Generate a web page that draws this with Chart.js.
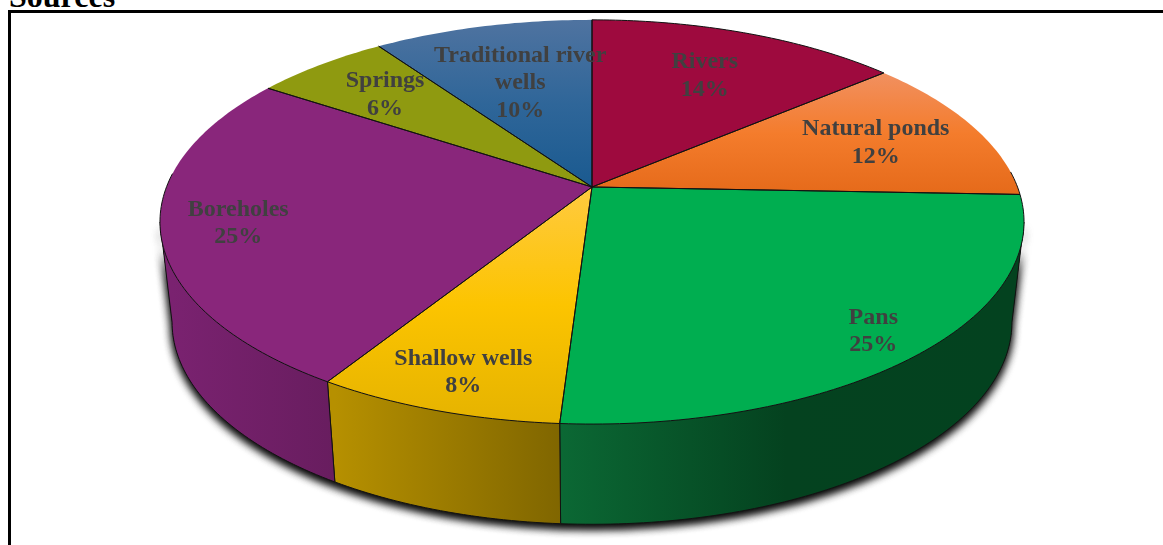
<!DOCTYPE html>
<html>
<head>
<meta charset="utf-8">
<style>
  html, body { margin: 0; padding: 0; background: #fff; overflow: hidden; }
  #wrap { position: relative; width: 1163px; height: 545px; overflow: hidden; }
  #title { position: absolute; left: 9px; top: -22px; font: bold 32px "Liberation Serif", serif; color: #000; }
  #frame { position: absolute; left: 8px; top: 10px; width: 1200px; height: 600px; border: 3px solid #000; }
  canvas { position: absolute; left: 0; top: 0; }
</style>
</head>
<body>
<div id="wrap">
  <div id="title">Sources</div>
  <div id="frame"></div>
  <canvas id="sourcesChart" width="1163" height="545"></canvas>
</div>
<script src="https://cdn.jsdelivr.net/npm/chart.js@4"></script>
<script>
const categories = ['Rivers', 'Natural ponds', 'Pans', 'Shallow wells', 'Boreholes', 'Springs', 'Traditional river wells'];
// printed labels are whole percents, the slice sizes read a little finer than that
const shares = [13.8, 11.8, 25.4, 7.9, 25.4, 6.0, 9.7];

// vertical gradient on the top face of each slice
const topStops = [
    ['#9e0a3e', '#9e0a3e'],
    ['#f19060', '#f47c2c', '#e56a1a'],
    ['#00ae50', '#00ae50'],
    ['#ffca40', '#fcc400', '#e5b300'],
    ['#89267b', '#89267b'],
    ['#8f9a10', '#8f9a10'],
    ['#4f73a0', '#2f6699', '#1a5a90'],
];
// horizontal gradient on the rim
const rimStops = [
    ['#6e0629', '#6e0629'],
    ['#a04a12', '#a04a12'],
    ['#0b6834', '#04421f', '#03421f'],
    ['#b69000', '#806600'],
    ['#7a2270', '#681d5f'],
    ['#636b0a', '#636b0a'],
    ['#123f66', '#123f66'],
];
// how far out along the middle of the slice each label sits
const labelReach = [0.70, 0.735, 0.875, 0.85, 0.825, 0.74, 0.62];

const TILT = 0.173;
const STRETCH_X = 2.548;
const STRETCH_Y = 1.174;
const DEPTH = 0.6;
const TAPER = 0.972;
const LABEL_WRAP = 180;
// the rim is visible between these two angles, where the outline turns back
const RIM_FROM = Math.asin(TILT);
const RIM_TO = Math.PI - Math.asin(TILT);

// Circle seen in perspective: the library's arc centre and radius go in, a page point comes out
function project(arc, angle, reach = 1) {
    const x = Math.cos(angle) * reach;
    const y = Math.sin(angle) * reach;
    const w = 1 - TILT * y;
    return {
        x: arc.x + arc.outerRadius * STRETCH_X * x / w,
        y: arc.y + arc.outerRadius * STRETCH_Y * y / w,
    };
}

function lower(arc, p) {
    return { x: arc.x + (p.x - arc.x) * TAPER, y: p.y + arc.outerRadius * DEPTH };
}

function curve(arc, from, to) {
    const steps = Math.max(8, Math.ceil((to - from) * 60));
    const pts = [];
    for (let i = 0; i <= steps; i++) {
        pts.push(project(arc, from + (to - from) * i / steps));
    }
    return pts;
}

function addStops(gradient, stops) {
    stops.forEach((c, i) => gradient.addColorStop(i / (stops.length - 1), c));
    return gradient;
}

function tracePoints(ctx, pts) {
    pts.forEach((p, i) => (i ? ctx.lineTo(p.x, p.y) : ctx.moveTo(p.x, p.y)));
}

function drawShadow(ctx, arc) {
    const pts = curve(arc, RIM_FROM, RIM_TO);
    const bottom = pts.map((p) => lower(arc, p));
    ctx.save();
    ctx.shadowColor = 'rgba(0,0,0,0.9)';
    ctx.shadowBlur = 10;
    ctx.shadowOffsetY = 4;
    ctx.fillStyle = '#333';
    ctx.beginPath();
    tracePoints(ctx, [...pts, ...bottom.reverse()]);
    ctx.closePath();
    ctx.fill();
    ctx.fill();
    ctx.restore();
}

function drawRim(ctx, arc, index) {
    const from = Math.max(arc.startAngle, RIM_FROM);
    const to = Math.min(arc.endAngle, RIM_TO);
    if (to <= from) return;
    const pts = curve(arc, from, to);
    const bottom = pts.map((p) => lower(arc, p));
    const xs = bottom.map((p) => p.x);
    const gradient = ctx.createLinearGradient(Math.min(...xs), 0, Math.max(...xs), 0);
    ctx.fillStyle = addStops(gradient, rimStops[index]);
    ctx.beginPath();
    tracePoints(ctx, [...pts, ...bottom.slice().reverse()]);
    ctx.closePath();
    ctx.fill();

    // bottom curve and the upright edges at each end
    ctx.strokeStyle = '#111';
    ctx.lineWidth = 1;
    ctx.beginPath();
    tracePoints(ctx, [pts[0], ...bottom, pts[pts.length - 1]]);
    ctx.stroke();
}

function drawTop(ctx, arc, index) {
    const pts = curve(arc, arc.startAngle, arc.endAngle);
    const centre = { x: arc.x, y: arc.y };
    const ys = pts.map((p) => p.y).concat(centre.y);
    const gradient = ctx.createLinearGradient(0, Math.min(...ys), 0, Math.max(...ys));
    ctx.fillStyle = addStops(gradient, topStops[index]);
    ctx.beginPath();
    tracePoints(ctx, [centre, ...pts]);
    ctx.closePath();
    ctx.fill();
}

function drawTopEdges(ctx, arc, index) {
    const pts = curve(arc, arc.startAngle, arc.endAngle);
    const span = arc.endAngle - arc.startAngle;
    ctx.strokeStyle = '#111';
    ctx.lineWidth = 1;
    ctx.beginPath();
    tracePoints(ctx, [pts[0], { x: arc.x, y: arc.y }, pts[pts.length - 1]]);
    ctx.stroke();
    // the far rim has a faint light edge, so only the near rim and the first slice get a line
    ctx.beginPath();
    let pen = false;
    pts.forEach((p, i) => {
        const a = arc.startAngle + span * i / (pts.length - 1);
        if (index === 0 || Math.sin(a) > -0.08) {
            pen ? ctx.lineTo(p.x, p.y) : ctx.moveTo(p.x, p.y);
            pen = true;
        }
    });
    ctx.stroke();
}

function wrapLabel(ctx, text) {
    const lines = [];
    let line = '';
    text.split(' ').forEach((word) => {
        const next = line ? line + ' ' + word : word;
        if (line && ctx.measureText(next).width > LABEL_WRAP) {
            lines.push(line);
            line = word;
        } else {
            line = next;
        }
    });
    lines.push(line);
    return lines;
}

function drawLabels(ctx, arcs) {
    ctx.font = 'bold 24px "Liberation Serif", serif';
    ctx.fillStyle = '#404040';
    ctx.textAlign = 'center';
    ctx.textBaseline = 'middle';
    const lineHeight = 27.5;
    arcs.forEach((arc, i) => {
        const mid = (arc.startAngle + arc.endAngle) / 2;
        const at = project(arc, mid, labelReach[i]);
        const lines = wrapLabel(ctx, categories[i]).concat(Math.round(shares[i]) + '%');
        lines.forEach((text, n) => {
            ctx.fillText(text, at.x, at.y + 1 + (n - (lines.length - 1) / 2) * lineHeight);
        });
    });
}

const perspectivePie = {
    id: 'perspectivePie',
    beforeDatasetsDraw(chart) {
        const ctx = chart.ctx;
        const arcs = chart.getDatasetMeta(0).data;
        ctx.save();
        drawShadow(ctx, arcs[0]);
        arcs.forEach((arc, i) => drawRim(ctx, arc, i));
        arcs.forEach((arc, i) => drawTop(ctx, arc, i));
        arcs.forEach((arc, i) => drawTopEdges(ctx, arc, i));
        drawLabels(ctx, arcs);
        ctx.restore();
        return false;
    },
};

new Chart(document.getElementById('sourcesChart').getContext('2d'), {
    type: 'pie',
    data: {
        labels: categories,
        datasets: [{ data: shares, borderWidth: 0 }],
    },
    options: {
        responsive: false,
        animation: false,
        layout: { padding: { left: 425, right: 404, top: 20, bottom: 191 } },
        plugins: {
            legend: { display: false },
            tooltip: { enabled: false },
        },
    },
    plugins: [perspectivePie],
});
</script>
</body>
</html>
